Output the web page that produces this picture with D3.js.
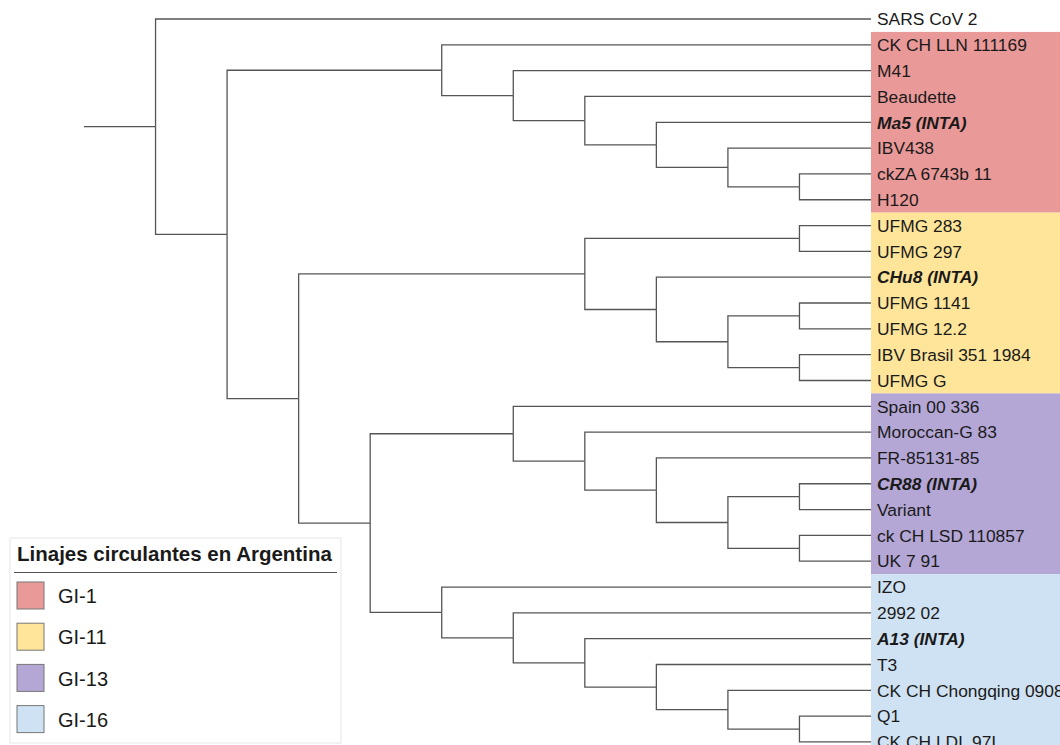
<!DOCTYPE html>
<html>
<head>
<meta charset="utf-8">
<script src="https://cdn.jsdelivr.net/npm/d3@7"></script>
<style>
  body { margin: 0; background: #fff; }
  svg { display: block; font-family: "Liberation Sans", Arial, sans-serif; }
</style>
</head>
<body>
<div id="tree_area"></div>
<script>

// Leaf names, top to bottom
var leafNames = ["SARS CoV 2", "CK CH LLN 111169", "M41", "Beaudette", "Ma5 (INTA)",
  "IBV438", "ckZA 6743b 11", "H120", "UFMG 283", "UFMG 297", "CHu8 (INTA)",
  "UFMG 1141", "UFMG 12.2", "IBV Brasil 351 1984", "UFMG G", "Spain 00 336",
  "Moroccan-G 83", "FR-85131-85", "CR88 (INTA)", "Variant", "ck CH LSD 110857",
  "UK 7 91", "IZO", "2992 02", "A13 (INTA)", "T3", "CK CH Chongqing 0908",
  "Q1", "CK CH LDL 97I"];

// Lineage of every leaf (null = outgroup)
var leafGroups = [null, "GI-1", "GI-1", "GI-1", "GI-1", "GI-1", "GI-1", "GI-1",
  "GI-11", "GI-11", "GI-11", "GI-11", "GI-11", "GI-11", "GI-11",
  "GI-13", "GI-13", "GI-13", "GI-13", "GI-13", "GI-13", "GI-13",
  "GI-16", "GI-16", "GI-16", "GI-16", "GI-16", "GI-16", "GI-16"];

// Argentinian INTA strains (bold italic)
var intaStrains = ["Ma5 (INTA)", "CHu8 (INTA)", "CR88 (INTA)", "A13 (INTA)"];

// Tree topology as nested arrays of leaf indexes
var topology = [0, [
  [1, [2, [3, [4, [5, [6, 7]]]]]],
  [
    [[8, 9], [10, [[11, 12], [13, 14]]]],
    [
      [15, [16, [17, [[18, 19], [20, 21]]]]],
      [22, [23, [24, [25, [26, [27, 28]]]]]]
    ]
  ]
]];

// Legend
var legendTitle = "Linajes circulantes en Argentina";
var groupNames = ["GI-1", "GI-11", "GI-13", "GI-16"];
var groupColors = ["#EA9999", "#FFE599", "#B4A7D6", "#CFE2F3"];


window.onload = function() {

  var svgW = 1060;
  var svgH = 745;
  var leafX = 871;      // where the leaf branches end
  var rowH = 25.82;     // distance between leaves
  var topY = 19;        // centre of the first leaf

  var svg = d3.select("#tree_area")
              .append("svg")
                .attr("width", svgW)
                .attr("height", svgH);

  var colorScale = d3.scaleOrdinal()
                      .domain(groupNames)
                      .range(groupColors);

  // Build hierarchy and cluster layout (all leaves aligned)
  var root = d3.hierarchy(topology, function(d) {
    return Array.isArray(d) ? d : null;
  });

  // cluster keeps half a row of padding at both ends
  var cluster = d3.cluster()
                  .size([leafNames.length * rowH, 1])
                  .separation(function() { return 1; });
  cluster(root);

  // Horizontal position from node height, one column per level
  var xScale = d3.scaleLinear()
                  .domain([0, root.height + 1])
                  .range([leafX, 84]);

  var yPos = function(n) { return topY - rowH / 2 + n.x; };

  // Coloured bands behind the labels, one per lineage
  var leaves = root.leaves();
  groupNames.forEach(function(g) {
    var members = leaves.filter(function(l) { return leafGroups[l.data] === g; });
    var y0 = d3.min(members, yPos) - rowH / 2;
    var y1 = d3.max(members, yPos) + rowH / 2;
    svg.append("rect")
        .attr("x", leafX)
        .attr("y", y0)
        .attr("width", svgW - leafX)
        .attr("height", y1 - y0)
        .attr("fill", colorScale(g));
  });

  // Branches: elbow from parent column to child
  var branches = svg.append("g")
                    .attr("fill", "none")
                    .attr("stroke", "#555")
                    .attr("stroke-width", 1.3);

  branches.selectAll("path")
          .data(root.links())
          .enter()
          .append("path")
            .attr("d", function(d) {
              var px = xScale(d.source.height);
              var cx = d.target.children ? xScale(d.target.height) : leafX;
              return "M" + px + "," + yPos(d.source) +
                     "V" + yPos(d.target) + "H" + cx;
            });

  // Root stub
  branches.append("path")
          .attr("d", "M" + xScale(root.height + 1) + "," + yPos(root) +
                     "H" + xScale(root.height));

  // Leaf labels
  svg.append("g")
      .selectAll("text")
      .data(leaves)
      .enter()
      .append("text")
        .attr("x", leafX + 6)
        .attr("y", yPos)
        .attr("dy", "0.36em")
        .style("font-size", "17.4px")
        .style("fill", "#1a1a1a")
        .style("font-weight", function(d) {
          return intaStrains.indexOf(leafNames[d.data]) >= 0 ? "bold" : "normal";
        })
        .style("font-style", function(d) {
          return intaStrains.indexOf(leafNames[d.data]) >= 0 ? "italic" : "normal";
        })
        .text(function(d) { return leafNames[d.data]; });

  // Legend box
  var legend = svg.append("g")
                  .attr("transform", "translate(10,538)");

  legend.append("rect")
        .attr("x", 0)
        .attr("y", 0)
        .attr("width", 331)
        .attr("height", 205)
        .attr("fill", "#fff")
        .attr("stroke", "#e6e6e6");

  legend.append("text")
        .attr("x", 7)
        .attr("y", 23)
        .style("font-size", "20.5px")
        .style("font-weight", "bold")
        .style("fill", "#1a1a1a")
        .text(legendTitle);

  legend.append("line")
        .attr("x1", 4)
        .attr("x2", 327)
        .attr("y1", 34.5)
        .attr("y2", 34.5)
        .attr("stroke", "#555")
        .attr("stroke-width", 1.2);

  var items = legend.selectAll(".item")
                    .data(groupNames)
                    .enter()
                    .append("g")
                      .attr("class", "item")
                      .attr("transform", function(d, i) {
                        return "translate(7," + (44 + i * 41.2) + ")";
                      });

  items.append("rect")
        .attr("width", 27)
        .attr("height", 27)
        .attr("fill", function(d) { return colorScale(d); })
        .attr("stroke", "#777")
        .attr("stroke-width", 1);

  items.append("text")
        .attr("x", 41)
        .attr("y", 14)
        .attr("dy", "0.36em")
        .style("font-size", "20px")
        .style("fill", "#1a1a1a")
        .text(function(d) { return d; });
};
</script>
</body>
</html>
